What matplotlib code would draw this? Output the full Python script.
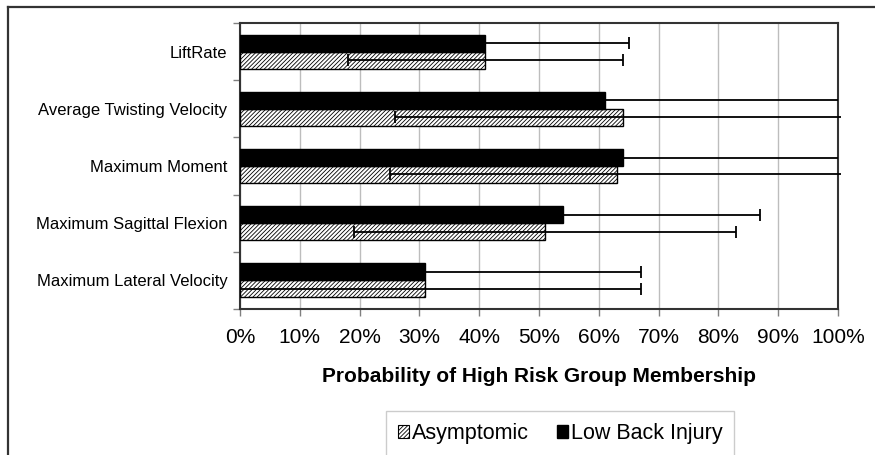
#!/usr/bin/env python3
"""Probability of high risk group membership, asymptomatic vs low back injury."""

import matplotlib as mpl
import matplotlib.pyplot as plt
import numpy as np
from matplotlib.lines import Line2D
from matplotlib.patches import Patch
from matplotlib.ticker import FuncFormatter, MultipleLocator

# categories listed top to bottom, as in the chart
categories = [
    "LiftRate",
    "Average Twisting Velocity",
    "Maximum Moment",
    "Maximum Sagittal Flexion",
    "Maximum Lateral Velocity",
]

# Asymptomic (hatched) series, percent
asym_values = [41, 64, 63, 51, 31]
asym_lower = [18, 26, 25, 19, -5]
asym_upper = [64, 100.5, 100.5, 83, 67]

# Low Back Injury (black) series, percent
lbi_values = [41, 61, 64, 54, 31]
lbi_lower = [17, 22, 28, 21, -5]
lbi_upper = [65, 100, 100, 87, 67]

legend_labels = ["Asymptomic", "Low Back Injury"]

FRAME = "#333333"
HATCH = "////////"

mpl.rcParams.update(
    {
        "font.family": ["Liberation Sans", "DejaVu Sans"],
        "hatch.linewidth": 0.6,
        "hatch.color": "black",
    }
)


def draw_errors(ax, ypos, lower, upper):
    lo = np.clip(np.asarray(lower, dtype=float), 0, None)
    hi = np.asarray(upper, dtype=float)
    ax.hlines(ypos, lo, hi, color="black", linewidth=1.3, zorder=4, clip_on=False)
    cap_hi = hi < 100
    ax.plot(hi[cap_hi], ypos[cap_hi], linestyle="none", marker="|",
            markersize=8, markeredgewidth=1.3, color="black", zorder=4)
    cap_lo = lo > 0
    ax.plot(lo[cap_lo], ypos[cap_lo], linestyle="none", marker="|",
            markersize=8, markeredgewidth=1.3, color="black", zorder=4)


def main():
    fig = plt.figure(figsize=(8.75, 4.55), dpi=100)
    ax = fig.add_axes([240 / 875, 1 - 309 / 455, 598 / 875, 286 / 455])

    n = len(categories)
    y = np.arange(n)[::-1].astype(float)
    h = 0.296

    ax.barh(y - h / 2, asym_values, height=h, color="white", edgecolor="black",
            linewidth=1.0, hatch=HATCH, zorder=3)
    ax.barh(y + h / 2, lbi_values, height=h, color="black", edgecolor="black",
            linewidth=1.0, zorder=3)

    draw_errors(ax, y - h / 2, asym_lower, asym_upper)
    draw_errors(ax, y + h / 2, lbi_lower, lbi_upper)

    ax.set_xlim(0, 100)
    ax.set_ylim(-0.5, n - 0.5)
    ax.xaxis.set_major_locator(MultipleLocator(10))
    ax.xaxis.set_major_formatter(FuncFormatter(lambda v, _p: f"{v:.0f}%"))
    ax.tick_params(axis="x", direction="out", length=5, width=1, color="#808080",
                   labelsize=15, pad=9)

    ax.set_yticks(np.arange(-0.5, n, 1.0))
    ax.set_yticklabels([])
    ax.set_yticks(y, categories, minor=True)
    ax.tick_params(axis="y", which="major", direction="out", length=5, width=1,
                   color="#808080")
    ax.tick_params(axis="y", which="minor", length=0, labelsize=12, pad=9)

    ax.grid(axis="x", color="#bdbdbd", linewidth=1.0)
    ax.set_axisbelow(True)
    for spine in ax.spines.values():
        spine.set_color(FRAME)
        spine.set_linewidth(1.5)

    ax.set_xlabel("Probability of High Risk Group Membership", fontsize=15,
                  fontweight="bold", labelpad=14)

    handles = [
        Patch(facecolor="white", edgecolor="black", hatch=HATCH, linewidth=0.8),
        Patch(facecolor="black", edgecolor="black"),
    ]
    fig.legend(handles, legend_labels, loc="upper left",
               bbox_to_anchor=(386 / 875, 1 - 411 / 455), ncol=2,
               fontsize=15.5, frameon=True, fancybox=False, edgecolor="#c0c0c0",
               handlelength=0.5, handleheight=0.55, handletextpad=0.15,
               columnspacing=1.3, borderaxespad=0, borderpad=0.55)

    # outer chart frame, cropped at right and bottom
    fig.add_artist(Line2D([8 / 875, 8 / 875], [1 - 7 / 455, -0.1],
                          transform=fig.transFigure, color=FRAME, linewidth=1.6))
    fig.add_artist(Line2D([8 / 875, 1.1], [1 - 7 / 455, 1 - 7 / 455],
                          transform=fig.transFigure, color=FRAME, linewidth=1.6))

    fig.savefig("out.png", dpi=100)
    plt.close(fig)


if __name__ == "__main__":
    main()
